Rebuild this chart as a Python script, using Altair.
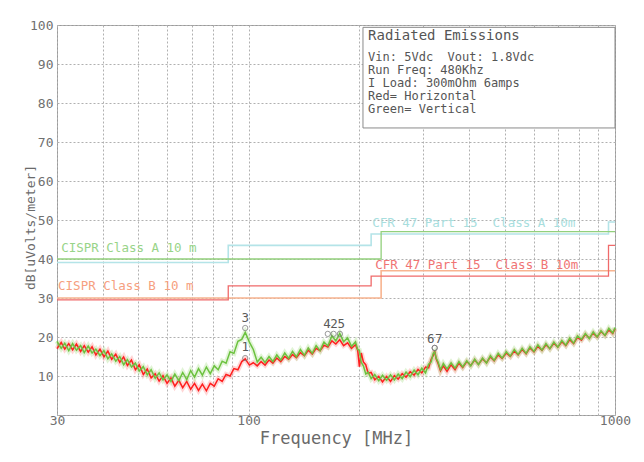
import altair as alt
import pandas as pd

FONT = "DejaVu Sans Mono"
NB = "\u00a0"

# ---- measured traces (MHz, dBuV/m) ----
freq = [
    30.0, 30.8, 31.5, 32.3, 33.1, 33.9, 34.8, 35.6, 36.5, 37.4,
    38.3, 39.3, 40.3, 41.3, 42.3, 43.4, 44.5, 45.6, 46.7, 47.9,
    49.1, 50.3, 51.6, 52.9, 54.2, 55.6, 57.0, 58.4, 59.9, 61.4,
    62.9, 64.5, 66.1, 67.8, 69.5, 71.2, 73.0, 74.8, 76.7, 78.6,
    80.6, 82.6, 84.7, 86.8, 89.0, 91.2, 93.5, 95.8, 97.9, 100.5,
    103, 105.6, 108.2, 110.9, 113.7, 116.5, 119.4, 122.4, 125.5, 128.6,
    131.8, 135.1, 138.5, 142, 145.5, 149.2, 152.9, 156.7, 160.6, 164.6,
    168.8, 173, 177.3, 181.7, 186.3, 190.9, 195.7, 198.5, 200.6, 203,
    205.7, 208.8, 212, 216, 221, 226.5, 232, 238, 244, 250,
    256, 262.5, 269, 276, 283, 290, 297, 304, 310, 315,
    319, 322, 325, 329, 334, 340, 348, 357, 366, 375,
    384, 394, 404, 414, 424, 435, 446, 457, 468, 480,
    492, 505, 518, 531, 544, 558, 572, 586, 601, 616,
    632, 648, 664, 681, 698, 716, 734, 752, 771, 790,
    810, 830, 851, 872, 894, 916, 939, 962, 986, 1000,
]
green = [
    18.9, 17.1, 18.4, 16.5, 18.3, 16.6, 17.8, 16.0, 17.7, 15.9,
    16.9, 15.2, 16.5, 14.4, 15.7, 13.8, 15.0, 12.9, 14.2, 12.3,
    13.3, 11.3, 12.4, 10.3, 11.6, 9.4, 10.8, 9.0, 10.3, 8.6,
    10.5, 8.8, 10.9, 9.1, 11.4, 9.7, 11.9, 10.2, 12.3, 10.6,
    12.6, 11.6, 13.8, 13.3, 16.2, 15.8, 18.9, 19.4, 21.2, 18.7,
    16.8, 13.6, 14.8, 13.5, 15.0, 13.7, 15.4, 14.1, 15.9, 14.5,
    16.3, 14.9, 16.8, 15.3, 17.2, 15.8, 17.8, 16.5, 18.7, 17.7,
    20.3, 19.0, 20.9, 18.8, 19.8, 17.6, 18.8, 16.8, 16.6, 13.5,
    12.6, 10.5, 11.0, 9.3, 10.4, 8.8, 10.2, 8.9, 10.3, 9.0,
    10.5, 9.3, 11.0, 9.8, 11.5, 10.3, 12.0, 10.8, 13.0, 13.6,
    15.8, 16.2, 14.6, 13.6, 11.6, 13.2, 11.8, 13.4, 12.0, 13.7,
    12.3, 13.9, 12.6, 14.3, 12.9, 14.6, 13.3, 15.2, 14.0, 15.8,
    14.6, 16.2, 15.1, 16.8, 15.5, 17.1, 15.8, 17.5, 16.3, 18.0,
    16.6, 18.3, 17.0, 18.7, 17.4, 19.1, 17.9, 19.7, 18.4, 20.3,
    19.4, 20.9, 19.6, 21.3, 20.0, 21.6, 20.4, 22.2, 21.0, 22.4,
]
red = [
    17.0, 18.6, 16.9, 18.3, 16.7, 18.2, 16.3, 17.8, 16.1, 17.5,
    15.4, 16.9, 14.9, 16.4, 14.3, 15.6, 13.5, 14.9, 12.7, 14.1,
    11.6, 12.9, 10.4, 11.8, 9.5, 10.6, 8.7, 10.1, 8.1, 9.5,
    7.4, 8.9, 7.0, 8.6, 6.6, 8.1, 6.3, 7.9, 6.2, 8.1,
    7.4, 9.3, 8.6, 10.4, 10.0, 11.9, 11.6, 13.7, 14.4, 12.8,
    13.4, 12.6, 13.7, 12.8, 14.1, 13.3, 14.6, 13.7, 15.0, 14.3,
    15.5, 14.7, 16.0, 15.2, 16.6, 15.6, 17.1, 16.5, 17.9, 17.4,
    19.0, 18.2, 19.3, 17.8, 18.5, 17.1, 18.0, 16.6, 12.4, 15.9,
    13.6, 12.9, 10.7, 10.9, 9.0, 9.9, 8.5, 9.9, 8.6, 10.1,
    9.2, 10.6, 9.7, 11.1, 10.2, 11.7, 10.8, 12.3, 12.1, 14.3,
    15.2, 16.5, 14.4, 13.2, 11.3, 12.6, 11.2, 12.9, 11.6, 13.3,
    12.2, 13.7, 12.7, 14.1, 13.0, 14.4, 13.4, 14.9, 13.9, 15.4,
    14.5, 15.9, 15.0, 16.4, 15.4, 16.8, 15.7, 17.2, 16.2, 17.6,
    16.6, 18.0, 17.0, 18.4, 17.4, 18.8, 17.8, 19.3, 18.3, 19.9,
    19.2, 20.7, 19.7, 21.0, 20.0, 21.4, 20.4, 21.8, 20.9, 22.1,
]

# ---- limit lines ----
fcc_a_f = [30, 88, 216, 960, 1000]
fcc_a_v = [39.1, 43.5, 46.4, 49.5, 49.5]
cispr_a_f = [30, 230, 1000]
cispr_a_v = [40, 47, 47]
fcc_b_f = [30, 88, 216, 960, 1000]
fcc_b_v = [29.5, 33.1, 35.6, 43.5, 43.5]
cispr_b_f = [30, 230, 1000]
cispr_b_v = [30, 37, 37]

# ---- limit labels ----
lim_text = ["CISPR Class A 10 m", "CISPR Class B 10 m",
            "CFR 47 Part 15" + NB + NB + "Class A 10m", "CFR 47 Part 15" + NB + NB + "Class B 10m"]
lim_text_f = [30.8, 30.2, 217.4, 221.5]
lim_text_v = [42.7, 33.1, 49.3, 38.5]
lim_text_c = ["#98d488", "#f6a080", "#a8dede", "#f07474"]

# ---- markers ----
mk_f = [97.9, 97.9, 164.5, 170.6, 177.5, 322, 322]
mk_v = [14.6, 22.3, 20.8, 20.8, 20.8, 17.2, 17.2]
mk_lab = ["1", "3", "4", "2", "5", "6", "7"]
mk_lab_f = [97.9, 97.9, 163.8, 171.1, 179.0, 314.2, 330.6]
mk_lab_v = [17.4, 25.0, 23.4, 23.4, 23.4, 19.6, 19.6]

# ---- info box ----
box_lines = ["Radiated Emissions", "Vin: 5Vdc" + NB + NB + "Vout: 1.8Vdc", "Run Freq: 480Khz",
             "I Load: 300mOhm 6amps", "Red= Horizontal", "Green= Vertical"]
box_line_v = [97.2, 91.7, 88.4, 85.1, 81.8, 78.5]
box_line_size = [14, 12, 12, 12, 12, 12]
box_f, box_f2, box_v, box_v2 = 205.2, 1000, 99.4, 73.6
box_text_f = 211.9

xvals = [30, 40, 50, 60, 70, 80, 90, 100, 200, 300, 400, 500, 600, 700, 800, 900, 1000]
yvals = [0, 10, 20, 30, 40, 50, 60, 70, 80, 90, 100]

xscale = alt.Scale(type="log", domain=[30, 1000], nice=False)
yscale = alt.Scale(domain=[0, 100], nice=False, zero=False)

axis_common = dict(domain=False, ticks=False, tickSize=0, grid=True, gridColor="#b0b0b0",
                   gridDash=[2, 2], gridWidth=1, labelFont=FONT, labelFontSize=13,
                   labelColor="#707070", titleFont=FONT, titleColor="#6a6a6a",
                   titleFontWeight="normal")

xaxis = alt.Axis(values=xvals, labelExpr="indexof([30,100,1000], datum.value) >= 0 ? format(datum.value, 'd') : ''",
                 labelPadding=5, labelBaseline="middle", labelFlush=False, labelOverlap=False,
                 title="Frequency [MHz]", titleFontSize=17, titleY=23, titleBaseline="middle",
                 **axis_common)
yaxis = alt.Axis(values=yvals, labelExpr="datum.value == 0 ? '' : datum.label",
                 labelPadding=4, labelBaseline="middle",
                 title="dB[uVolts/meter]", titleFontSize=13, titleX=-27, titleY=202,
                 titleAngle=270, titleAlign="center", titleBaseline="middle",
                 **axis_common)

X = alt.X("f:Q", scale=xscale, axis=xaxis)
Y = alt.Y("v:Q", scale=yscale, axis=yaxis)

trace_df = pd.concat([
    pd.DataFrame({"f": freq, "v": red, "s": "H"}),
    pd.DataFrame({"f": freq, "v": green, "s": "V"}),
])


def lim_line(fs, vs, color, width=1.3):
    return alt.Chart(pd.DataFrame({"f": fs, "v": vs})).mark_line(
        interpolate="step-after", color=color, strokeWidth=width).encode(x=X, y=Y)


limits = (lim_line(cispr_b_f, cispr_b_v, "#f8b490", 1.6)
          + lim_line(fcc_b_f, fcc_b_v, "#f06a6a", 1.3)
          + lim_line(fcc_a_f, fcc_a_v, "#b4e4e8", 1.6)
          + lim_line(cispr_a_f, cispr_a_v, "#92d07c", 1.3))

lim_labels = alt.Chart(pd.DataFrame({"f": lim_text_f, "v": lim_text_v, "t": lim_text, "c": lim_text_c})).mark_text(
    align="left", baseline="middle", font=FONT, fontSize=12.5).encode(
    x=X, y=Y, text="t:N", color=alt.Color("c:N", scale=None))


def trace(series, color, width, opacity):
    return alt.Chart(trace_df).transform_filter(alt.datum.s == series).mark_line(
        color=color, strokeWidth=width, opacity=opacity).encode(x=X, y=Y)


traces = (trace("H", "#ff8a8a", 5, 0.35) + trace("V", "#a8e08a", 5, 0.35)
          + trace("H", "#ff1e1e", 1.5, 1) + trace("V", "#6cc23f", 1.5, 1))

markers = alt.Chart(pd.DataFrame({"f": mk_f, "v": mk_v})).mark_point(
    shape="circle", filled=False, color="#707070", size=28, strokeWidth=1).encode(x=X, y=Y)

marker_labels = alt.Chart(pd.DataFrame({"f": mk_lab_f, "v": mk_lab_v, "t": mk_lab})).mark_text(
    align="center", baseline="middle", font=FONT, fontSize=12.5, color="#5a5a5a").encode(
    x=X, y=Y, text="t:N")

box = alt.Chart(pd.DataFrame({"f": [box_f], "f2": [box_f2], "v": [box_v], "v2": [box_v2]})).mark_rect(
    fill="white", stroke="#8a8a8a", strokeWidth=1).encode(x=X, x2="f2:Q", y=Y, y2="v2:Q")

box_text = alt.Chart(pd.DataFrame({"f": [box_text_f] * len(box_lines), "v": box_line_v,
                                   "t": box_lines, "sz": box_line_size})).mark_text(
    align="left", baseline="middle", font=FONT, color="#555555").encode(
    x=X, y=Y, text="t:N", size=alt.Size("sz:Q", scale=None, legend=None))

chart = alt.layer(limits, lim_labels, traces, markers, marker_labels, box, box_text).properties(
    width=558, height=390,
    autosize=alt.AutoSizeParams(type="none"),
    padding={"left": 49, "top": 17, "right": 21, "bottom": 38},
    background="white",
).configure_view(stroke="#9a9a9a", strokeWidth=1)

chart.save("out.html", embed_options={"renderer": "svg", "actions": False})
